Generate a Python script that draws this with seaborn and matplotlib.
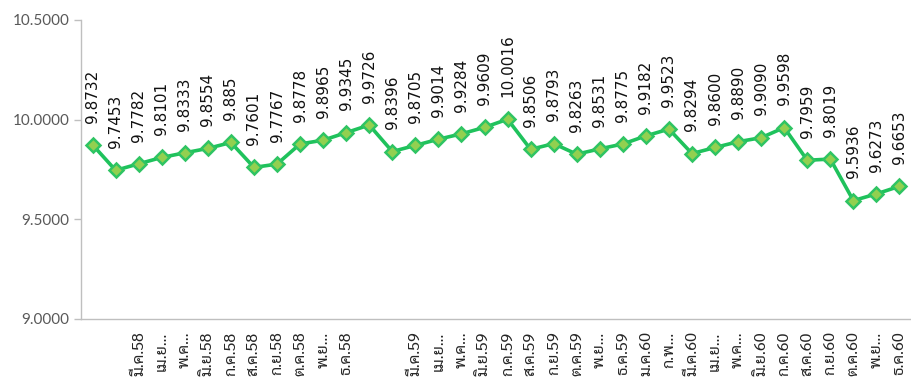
import matplotlib
matplotlib.use("Agg")
import numpy as np
import pandas as pd
import seaborn as sns
import matplotlib.pyplot as plt

# tick labels as they appear on the chart (Excel hides/truncates some)
months = ["", "", "มี.ค.58", "เม.ย…", "พ.ค…", "มิ.ย.58", "ก.ค.58", "ส.ค.58",
          "ก.ย.58", "ต.ค.58", "พ.ย…", "ธ.ค.58",
          "", "", "มี.ค.59", "เม.ย…", "พ.ค…", "มิ.ย.59", "ก.ค.59", "ส.ค.59",
          "ก.ย.59", "ต.ค.59", "พ.ย…", "ธ.ค.59",
          "ม.ค.60", "ก.พ…", "มี.ค.60", "เม.ย…", "พ.ค…", "มิ.ย.60", "ก.ค.60", "ส.ค.60",
          "ก.ย.60", "ต.ค.60", "พ.ย…", "ธ.ค.60"]

value_labels = ["9.8732", "9.7453", "9.7782", "9.8101", "9.8333", "9.8554", "9.885",
                "9.7601", "9.7767", "9.8778", "9.8965", "9.9345", "9.9726",
                "9.8396", "9.8705", "9.9014", "9.9284", "9.9609", "10.0016",
                "9.8506", "9.8793", "9.8263", "9.8531", "9.8775", "9.9182", "9.9523",
                "9.8294", "9.8600", "9.8890", "9.9090", "9.9598",
                "9.7959", "9.8019", "9.5936", "9.6273", "9.6653"]
values = [float(v) for v in value_labels]

df = pd.DataFrame({"pos": np.arange(len(values)), "rate": values})

sns.set_style("white")
plt.rcParams["font.family"] = ["Lato", "Sarabun", "DejaVu Sans"]

fig = plt.figure(figsize=(9.11, 3.82), dpi=100)
ax = fig.add_axes([0.089, 0.165, 0.911, 0.783])

sns.lineplot(data=df, x="pos", y="rate", ax=ax, color="#1FC25C", linewidth=2.6,
             marker="D", markersize=7.5, markerfacecolor="#92D050",
             markeredgecolor="#2FC463", markeredgewidth=1.8)

for x, y, s in zip(df["pos"], df["rate"], value_labels):
    ax.annotate(s, (x, y), xytext=(0, 16), textcoords="offset points",
                rotation=90, ha="center", va="bottom", fontsize=11,
                family=["DejaVu Sans"], color="#111111")

ax.set_xlim(-0.5, len(values) - 0.5)
ax.set_ylim(9.0, 10.5)
ax.set_yticks([9.0, 9.5, 10.0, 10.5])
ax.set_yticklabels([f"{t:.4f}" for t in [9.0, 9.5, 10.0, 10.5]])
ax.set_xticks(df["pos"])
ax.set_xticklabels(months, rotation=90, va="top", ha="center",
                   family=["Sarabun", "DejaVu Sans"])
ax.set_xticks(np.arange(-0.5, len(values), 1.0), minor=True)
ax.tick_params(axis="x", which="major", length=0, pad=9, labelsize=11.5,
               labelcolor="#262626")
ax.tick_params(axis="x", which="minor", length=5, color="#BFBFBF", width=1)
ax.tick_params(axis="y", length=5, color="#BFBFBF", width=1, labelsize=11,
               labelcolor="#595959", left=True)
ax.set_xlabel("")
ax.set_ylabel("")

sns.despine(ax=ax, top=True, right=True)
for side in ["left", "bottom"]:
    ax.spines[side].set_color("#BFBFBF")
    ax.spines[side].set_linewidth(1)

fig.savefig("out.png", dpi=100)
